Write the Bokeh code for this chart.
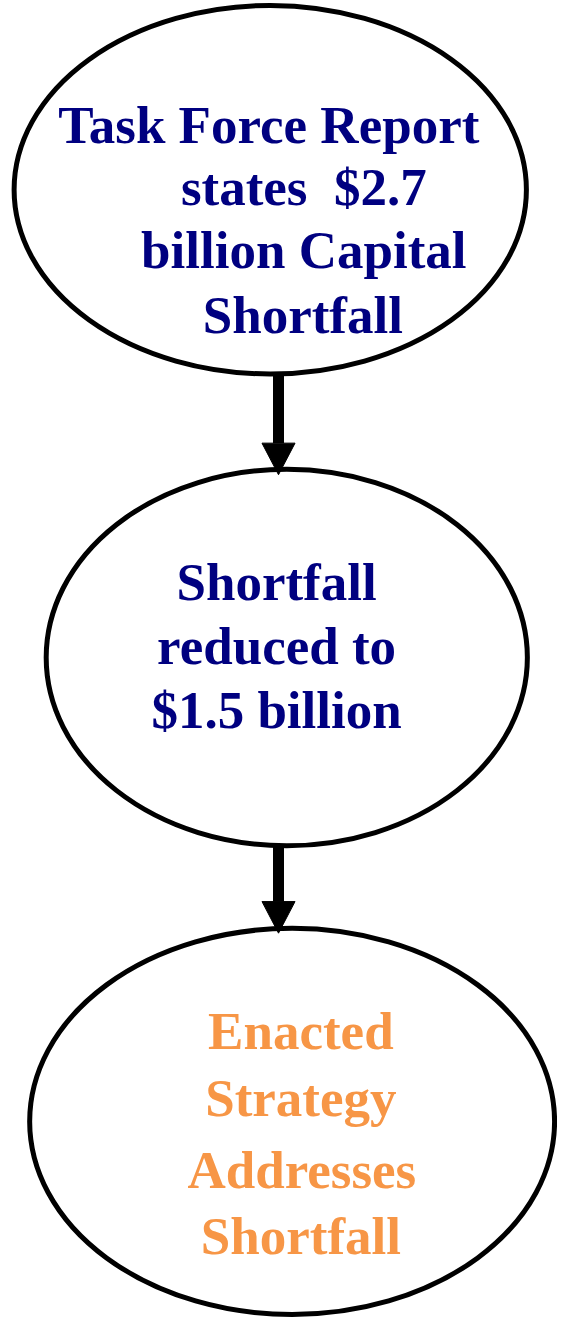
from bokeh.plotting import figure
from bokeh.models import Range1d, ColumnDataSource
from bokeh.embed import file_html
from bokeh.resources import INLINE
from bokeh.core.properties import value

# Ellipse nodes (image pixel coordinates of the reference)
node_cx = [277.5, 294.5, 300.0]
node_cy = [191.5, 665.0, 1134.5]
node_w = [527, 495, 540]
node_h = [373, 381, 391]

# Text lines per node
text_lines = ["Task Force Report", "states \u00a0$2.7", "billion Capital", "Shortfall",
              "Shortfall", "reduced to", "$1.5 billion",
              "Enacted", "Strategy", "Addresses", "Shortfall"]
text_x = [276, 312, 312, 311, 284, 284, 284, 309, 309, 310, 309]
text_y = [135, 198, 262, 327, 598, 662, 727, 1052, 1120, 1193, 1260]
text_color = ["#000080"] * 7 + ["#F79646"] * 4

# Arrows: shaft x, start y, head base y, tip y
arrow_x = [286, 286]
arrow_y0 = [378, 856]
arrow_hb = [448, 912]
arrow_tip = [480, 944]
head_half = 17

W, H = 557, 1319
p = figure(width=W, height=H, output_backend="svg", toolbar_location=None,
           x_range=Range1d(0, 573), y_range=Range1d(1335, 0),
           min_border=0)
p.axis.visible = False
p.grid.visible = False
p.outline_line_color = None
p.background_fill_color = "white"
p.border_fill_color = "white"

p.ellipse(x=node_cx, y=node_cy, width=node_w, height=node_h,
          fill_color="white", line_color="black", line_width=5)

p.segment(x0=arrow_x, y0=arrow_y0, x1=arrow_x, y1=arrow_hb,
          line_color="black", line_width=11)
xs = [[x - head_half, x + head_half, x] for x in arrow_x]
ys = [[hb, hb, t] for hb, t in zip(arrow_hb, arrow_tip)]
p.patches(xs=xs, ys=ys, fill_color="black", line_color="black", line_width=1)

src = ColumnDataSource(dict(x=text_x, y=text_y, t=text_lines, c=text_color))
p.text(x="x", y="y", text="t", source=src, text_color="c",
       text_font=value("Liberation Serif"), text_font_style="bold",
       text_font_size="53px", text_align="center", text_baseline="alphabetic",
       y_offset=-9)

open("out.html", "w").write(file_html(p, INLINE))
